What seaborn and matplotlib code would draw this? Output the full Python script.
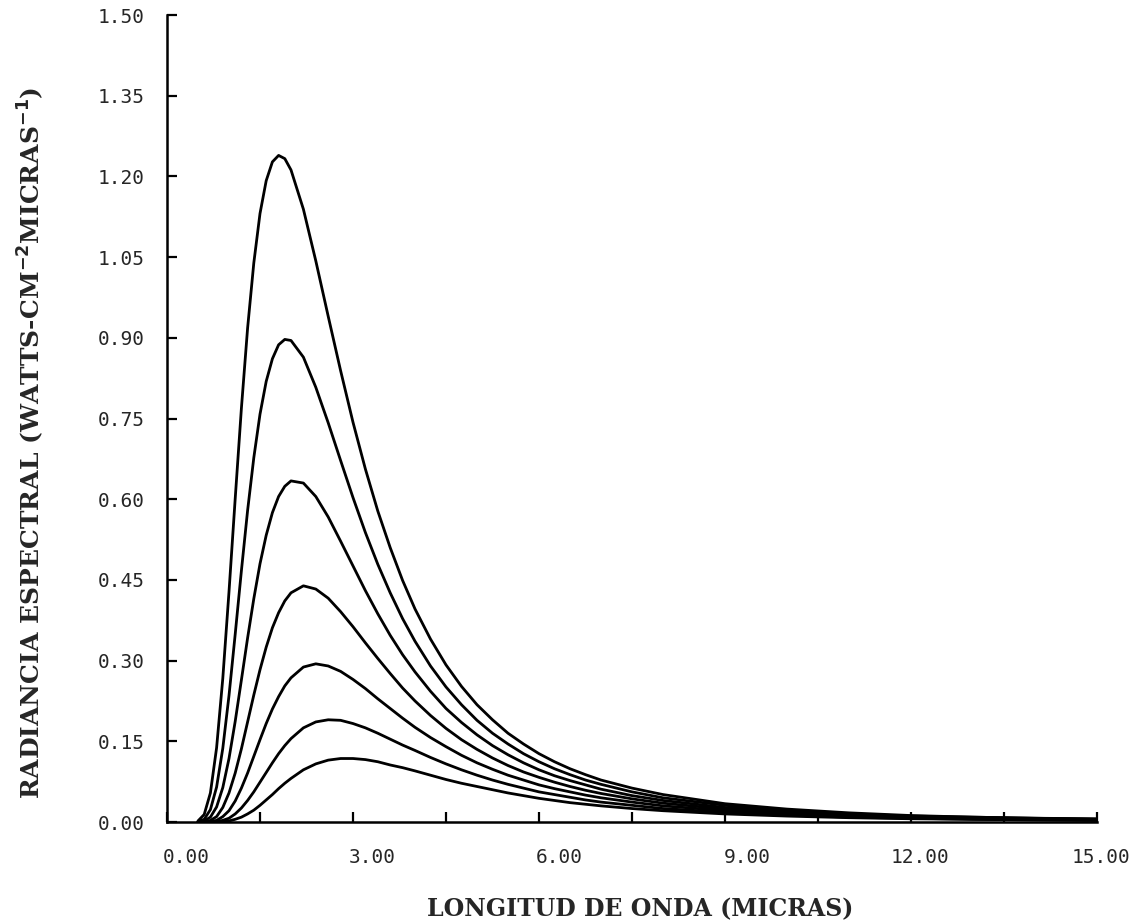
import numpy as np
import pandas as pd
import matplotlib
matplotlib.use('Agg')
import matplotlib.pyplot as plt
import matplotlib.ticker as ticker
import matplotlib.transforms as mtransforms
import seaborn as sns

# longitud de onda (micras) y radiancia, una curva por temperatura
wavelength = [0.5, 0.6, 0.7, 0.8, 0.9, 1.0, 1.1, 1.2, 1.3, 1.4, 1.5, 1.6, 1.7, 1.8, 1.9, 2.0,
              2.2, 2.4, 2.6, 2.8, 3.0, 3.2, 3.4, 3.6, 3.8, 4.0,
              4.25, 4.5, 4.75, 5.0, 5.25, 5.5, 5.75, 6.0, 6.25, 6.5, 6.75, 7.0, 7.5,
              8.0, 9.0, 10.0, 11.0, 12.0, 13.0, 14.0, 15.0]

rad_1600 = [0.002, 0.014, 0.054, 0.138, 0.267, 0.428, 0.601, 0.769, 0.918, 1.039, 1.131, 1.192, 1.227, 1.239, 1.233, 1.212,
            1.139, 1.043, 0.940, 0.839, 0.743, 0.656, 0.578, 0.510, 0.449, 0.396,
            0.340, 0.292, 0.252, 0.218, 0.190, 0.165, 0.145, 0.127, 0.112, 0.099, 0.088, 0.078, 0.063,
            0.051, 0.034, 0.024, 0.017, 0.012, 0.009, 0.007, 0.006]
rad_1500 = [0.001, 0.005, 0.023, 0.065, 0.137, 0.235, 0.349, 0.467, 0.579, 0.677, 0.758, 0.819, 0.861, 0.887, 0.897, 0.895,
            0.864, 0.808, 0.742, 0.672, 0.603, 0.538, 0.479, 0.426, 0.378, 0.336,
            0.290, 0.251, 0.218, 0.189, 0.165, 0.145, 0.127, 0.112, 0.099, 0.088, 0.078, 0.070, 0.056,
            0.045, 0.031, 0.021, 0.015, 0.011, 0.009, 0.007, 0.005]
rad_1400 = [0.000, 0.002, 0.009, 0.028, 0.064, 0.118, 0.187, 0.264, 0.342, 0.415, 0.480, 0.533, 0.575, 0.605, 0.624, 0.634,
            0.630, 0.605, 0.567, 0.522, 0.476, 0.430, 0.387, 0.347, 0.311, 0.279,
            0.243, 0.211, 0.185, 0.162, 0.142, 0.125, 0.110, 0.097, 0.086, 0.077, 0.069, 0.061, 0.049,
            0.040, 0.027, 0.019, 0.014, 0.010, 0.008, 0.006, 0.005]
rad_1300 = [0.000, 0.000, 0.003, 0.010, 0.027, 0.054, 0.091, 0.136, 0.186, 0.236, 0.283, 0.325, 0.361, 0.389, 0.411, 0.426,
            0.439, 0.433, 0.416, 0.391, 0.363, 0.333, 0.304, 0.276, 0.249, 0.225,
            0.198, 0.174, 0.153, 0.135, 0.119, 0.105, 0.093, 0.083, 0.074, 0.066, 0.059, 0.053, 0.043,
            0.035, 0.024, 0.017, 0.012, 0.009, 0.007, 0.005, 0.004]
rad_1200 = [0.000, 0.000, 0.001, 0.003, 0.010, 0.021, 0.039, 0.063, 0.091, 0.122, 0.153, 0.183, 0.210, 0.233, 0.253, 0.268,
            0.288, 0.294, 0.290, 0.280, 0.265, 0.248, 0.229, 0.211, 0.193, 0.176,
            0.157, 0.140, 0.124, 0.110, 0.098, 0.087, 0.078, 0.069, 0.062, 0.056, 0.050, 0.045, 0.037,
            0.030, 0.021, 0.015, 0.011, 0.008, 0.006, 0.005, 0.004]
rad_1100 = [0.000, 0.000, 0.000, 0.001, 0.003, 0.007, 0.015, 0.026, 0.040, 0.056, 0.074, 0.092, 0.110, 0.127, 0.142, 0.155,
            0.175, 0.186, 0.190, 0.189, 0.183, 0.175, 0.165, 0.154, 0.143, 0.133,
            0.120, 0.108, 0.097, 0.087, 0.078, 0.070, 0.063, 0.056, 0.051, 0.046, 0.041, 0.037, 0.031,
            0.025, 0.018, 0.013, 0.009, 0.007, 0.005, 0.004, 0.003]
rad_1000 = [0.000, 0.000, 0.000, 0.000, 0.001, 0.002, 0.005, 0.009, 0.015, 0.022, 0.031, 0.041, 0.051, 0.062, 0.072, 0.081,
            0.097, 0.108, 0.115, 0.118, 0.118, 0.116, 0.112, 0.106, 0.101, 0.095,
            0.087, 0.079, 0.072, 0.066, 0.060, 0.054, 0.049, 0.044, 0.040, 0.036, 0.033, 0.030, 0.025,
            0.021, 0.015, 0.011, 0.008, 0.006, 0.005, 0.004, 0.003]

temperatures = [1600, 1500, 1400, 1300, 1200, 1100, 1000]
curves = [rad_1600, rad_1500, rad_1400, rad_1300, rad_1200, rad_1100, rad_1000]

x_ticks = [0, 3, 6, 9, 12, 15]
x_ticklabels = ['0.00', '3.00', '6.00', '9.00', '12.00', '15.00']
x_minor = [1.5, 4.5, 7.5, 10.5, 13.5]
y_ticks = [0.0, 0.15, 0.30, 0.45, 0.60, 0.75, 0.90, 1.05, 1.20, 1.35, 1.50]
y_ticklabels = ['0.00', '0.15', '0.30', '0.45', '0.60', '0.75', '0.90', '1.05', '1.20', '1.35', '1.50']

rows = []
for t, vals in zip(temperatures, curves):
    for wl, v in zip(wavelength, vals):
        rows.append({'lambda': wl, 'rad': v, 'T': t})
df = pd.DataFrame(rows)

sns.set_theme(style='ticks')
plt.rcParams['font.family'] = ['DejaVu Sans']

fig = plt.figure(figsize=(11.35, 9.22), dpi=100)
ax = fig.add_axes([167 / 1135, 1 - 822 / 922, (1097 - 167) / 1135, (822 - 15) / 922])

sns.lineplot(data=df, x='lambda', y='rad', hue='T', units='T', estimator=None,
             palette=['black'] * len(temperatures), linewidth=2.0, legend=False, ax=ax)

ax.set_xlim(0, 15)
ax.set_ylim(0, 1.5)
sns.despine(ax=ax)
for side in ['left', 'bottom']:
    ax.spines[side].set_linewidth(1.8)
    ax.spines[side].set_color('black')

tick_font = {'family': 'DejaVu Sans Mono', 'size': 14}
ax.set_xticks(x_ticks)
ax.set_xticklabels(x_ticklabels, fontdict=tick_font)
ax.xaxis.set_minor_locator(ticker.FixedLocator(x_minor))
ax.set_yticks(y_ticks)
ax.set_yticklabels(y_ticklabels, fontdict=tick_font)
ax.tick_params(axis='x', which='both', direction='in', length=7, width=1.6, color='black', pad=19)
ax.tick_params(axis='y', which='major', direction='in', length=7, width=1.6, color='black', pad=16)

# desplazamiento de las etiquetas del eje x como en el original
for lab, dx in zip(ax.get_xticklabels(), [19, 19, 20, 22, 9, 4]):
    lab.set_transform(lab.get_transform() + mtransforms.ScaledTranslation(dx / 100, 0, fig.dpi_scale_trans))

label_font = {'family': 'DejaVu Serif', 'weight': 'heavy', 'size': 17}
ax.set_xlabel('LONGITUD DE ONDA (MICRAS)', fontdict=label_font)
ax.set_ylabel(r'RADIANCIA ESPECTRAL (WATTS-CM$^{\mathbf{-2}}$MICRAS$^{\mathbf{-1}}$)',
              fontdict={'family': 'DejaVu Serif', 'weight': 'heavy', 'size': 18})
ax.xaxis.set_label_coords(0.509, -0.093)
ax.yaxis.set_label_coords(-0.130, 0.47)

fig.savefig('out.png', dpi=100, facecolor='white')
